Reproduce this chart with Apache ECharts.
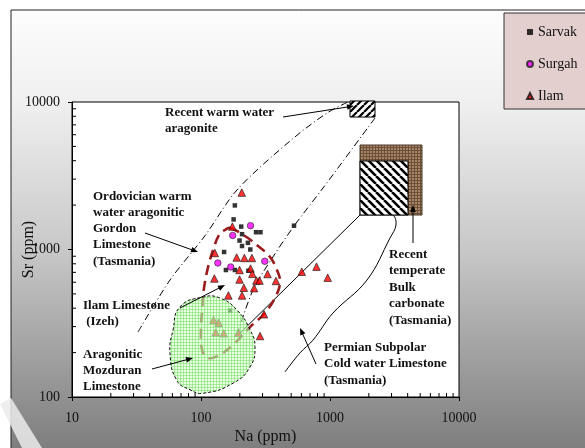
<!DOCTYPE html>
<html><head><meta charset="utf-8">
<script src="https://cdn.jsdelivr.net/npm/echarts@6/dist/echarts.min.js"></script>
<style>html,body{margin:0;padding:0;background:#fff}#c{width:585px;height:448px}</style>
</head><body><div id="c"></div>
<script>
// ---- data (Na ppm, Sr ppm) ----
const xTickLabels = [10, 100, 1000, 10000];
const yTickLabels = [100, 1000, 10000];
const minorMultipliers = [2, 3, 4, 5, 6, 7, 8, 9];
const sarvak = [[183,1990],[179,1600],[205,1430],[267,1310],[289,1310],[208,1270],[199,1150],[231,1110],[208,1056],[241,1000],[151,962],[156,726],[183,726],[233,718],[526,1450],[168,385]];
const surgah = [[242,1450],[176,1244],[135,810],[170,761],[312,832]];
const ilam = [[207,2430],[175,1430],[128,947],[189,883],[217,876],[248,876],[199,726],[242,743],[250,684],[269,616],[284,616],[328,682],[381,612],[127,636],[199,626],[215,550],[258,547],[163,488],[208,488],[308,364],[287,259],[125,333],[137,319],[130,274],[150,270],[195,273],[604,707],[786,765],[960,644]];
// envelopes
const warmUpper = [[32.5,276],[57.5,621],[107,1235],[190,2532],[490,5440],[948,8422],[1429,10158]];
const warmLower = [[190,263],[253,531],[361,890],[526,1443],[883,2612],[2233,7789]];
const permianLine = [[194,263],[1709,1713]];
const permianCurve = [[448,148],[585,199],[738,243],[1055,371],[1936,621],[2919,1197],[3248,1466],[3079,1713],[2441,1838],[1709,1768]];
const ilamEnvelope = [[168,1399],[219,1235],[277,1056],[343,890],[388,726],[410,602],[381,484],[313,371],[240,298],[177,225],[135,190],[113,184],[102,208],[100,285],[102,389],[105,531],[113,749],[124,992],[138,1254],[153,1356]];
const mozduranEnvelope = [[68.7,408],[103.6,476],[140,469],[190,389],[240,285],[262,219],[240,160],[177,124],[103.6,106],[82.2,112],[64.8,130],[57.5,199],[60.7,285]];
const warmBox = [[1429,7907],[2233,10158]];
const bulkBox = [[1709,1713],[5168,5110]];
const bulkInner = [[1709,1713],[4024,3981]];

// ---- patterns ----
function hatch(dir, bg, fg, size, lw){
  const c=document.createElement('canvas'); c.width=c.height=size;
  const g=c.getContext('2d'); g.fillStyle=bg; g.fillRect(0,0,size,size);
  g.strokeStyle=fg; g.lineWidth=lw; g.beginPath();
  for (let k=-1;k<=1;k++){
    if(dir>0){ g.moveTo(k*size, size); g.lineTo(k*size+size, 0); }
    else { g.moveTo(k*size, 0); g.lineTo(k*size+size, size); }
  }
  g.stroke(); return c;
}
function gridPat(bg, fg, size){
  const c=document.createElement('canvas'); c.width=c.height=size;
  const g=c.getContext('2d'); g.fillStyle=bg; g.fillRect(0,0,size,size);
  g.fillStyle=fg; g.fillRect(0,0,size,1); g.fillRect(0,0,1,size); return c;
}
const patGreen = {image: gridPat('rgba(215,255,205,0.55)','rgba(110,220,90,0.5)',3), repeat:'repeat'};
const patBrown = {image: gridPat('#a3856a','#6e4f35',3), repeat:'repeat'};
const patHatchBack = {image: hatch(-1,'#ffffff','#000000',8,2.6), repeat:'repeat'};
const patHatchFwd = {image: hatch(1,'#ffffff','#000000',7,2.2), repeat:'repeat'};

function shapeSeries(name, pts, kind, style, z, extra){
  return {type:'custom', name, coordinateSystem:'cartesian2d', silent:true, clip:false, z,
    data:[pts[0]],
    renderItem:(params, api)=>({type:kind, shape:Object.assign({points: pts.map(p=>api.coord(p))}, extra||{}), style})};
}
function boxSeries(name, box, style, z){
  return {type:'custom', name, coordinateSystem:'cartesian2d', silent:true, clip:false, z,
    data:[box[0]],
    renderItem:(params, api)=>{
      const a=api.coord(box[0]), b=api.coord(box[1]);
      return {type:'rect', shape:{x:Math.min(a[0],b[0]), y:Math.min(a[1],b[1]), width:Math.abs(b[0]-a[0]), height:Math.abs(b[1]-a[1])}, style};
    }};
}
const minorTickSeries = {type:'custom', name:'minor', coordinateSystem:'cartesian2d', silent:true, clip:false, z:5,
  data:[[xTickLabels[0], yTickLabels[0]]],
  renderItem:(params, api)=>{
    const children=[];
    xTickLabels.slice(0,-1).forEach(d=>minorMultipliers.forEach(m=>{
      const p=api.coord([d*m, yTickLabels[0]]);
      children.push({type:'line', shape:{x1:p[0],y1:p[1],x2:p[0],y2:p[1]-4}, style:{stroke:'#000',lineWidth:1}});
    }));
    yTickLabels.slice(0,-1).forEach(d=>minorMultipliers.forEach(m=>{
      const p=api.coord([xTickLabels[0], d*m]);
      children.push({type:'line', shape:{x1:p[0],y1:p[1],x2:p[0]+4,y2:p[1]}, style:{stroke:'#000',lineWidth:1}});
    }));
    return {type:'group', children};
  }};

function arrow(x1,y1,x2,y2){
  const a=Math.atan2(y2-y1,x2-x1), L=7, W=2.8, c=Math.cos(a), s=Math.sin(a);
  return [
    {type:'line', z:100, shape:{x1,y1,x2:x2-c*3,y2:y2-s*3}, style:{stroke:'#000', lineWidth:1}},
    {type:'polygon', z:100, shape:{points:[[x2,y2],[x2-L*c+W*s, y2-L*s-W*c],[x2-L*c-W*s, y2-L*s+W*c]]}, style:{fill:'#000'}}
  ];
}
const F = 'bold 13px "Liberation Serif", "Times New Roman", serif';
function label(x, top, lines, lh){
  return {type:'text', z:100, x, y:top, style:{text: lines.join('\n'), font:F, fill:'#111', lineHeight:lh, verticalAlign:'top', align:'left'}};
}

const serif = '"Liberation Serif", "Times New Roman", serif';
const chart = echarts.init(document.getElementById('c'), null, {renderer:'canvas'});
chart.setOption({
  backgroundColor:'#ffffff',
  animation:false,
  grid:{left:72, top:102, width:387, height:295, outerBoundsMode:'none', containLabel:false, show:true, backgroundColor:'#ffffff', borderColor:'#000', borderWidth:1},
  xAxis:{type:'log', logBase:10, min:xTickLabels[0], max:xTickLabels[xTickLabels.length-1],
    name:'Na (ppm)', nameLocation:'middle', nameGap:32, nameMoveOverlap:false, nameTextStyle:{fontFamily:serif, fontSize:16, color:'#111'},
    axisLine:{lineStyle:{color:'#000', width:1}}, axisTick:{inside:false, length:4, lineStyle:{color:'#000'}},
    axisLabel:{margin:14, fontFamily:serif, fontSize:14, color:'#111', formatter:v=>String(Math.round(v))},
    splitLine:{show:false}},
  yAxis:{type:'log', logBase:10, min:yTickLabels[0], max:yTickLabels[yTickLabels.length-1],
    name:'Sr (ppm)', nameLocation:'middle', nameGap:35, nameMoveOverlap:false, nameRotate:90, nameTextStyle:{fontFamily:serif, fontSize:16, color:'#111'},
    axisLine:{lineStyle:{color:'#000', width:1}}, axisTick:{inside:false, length:4, lineStyle:{color:'#000'}},
    axisLabel:{margin:12, fontFamily:serif, fontSize:14, color:'#111', formatter:v=>String(Math.round(v))},
    splitLine:{show:false}},
  legend:{data:['Sarvak','Surgah','Ilam'], orient:'vertical', left:526, top:25, itemGap:18, itemWidth:6, itemHeight:6, padding:0,
    textStyle:{fontFamily:serif, fontSize:14, color:'#111'}, z:20},
  graphic:[
    {type:'rect', z:-100, silent:true, shape:{x:11,y:10,width:620,height:460},
      style:{fill:{type:'linear',x:0,y:0,x2:0,y2:1,colorStops:[{offset:0,color:'#fdfdfd'},{offset:0.2,color:'#f0f0f0'},{offset:0.52,color:'#c8c8c8'},{offset:0.96,color:'#7d7d7d'},{offset:1,color:'#7a7a7a'}]}, stroke:'#222', lineWidth:1}},
    {type:'polygon', z:-50, silent:true, shape:{points:[[0,404],[11,398],[42,448],[22,448]]}, style:{fill:'rgba(235,235,235,0.85)'}},
    {type:'rect', z:10, silent:true, shape:{x:504,y:13,width:100,height:96}, style:{fill:'#e4cfcf', stroke:'#333', lineWidth:1}},
    label(165,105,['Recent warm water','aragonite'],16),
    label(93,188,['Ordovician warm','water aragonitic','Gordon','Limestone','(Tasmania)'],16.3),
    label(83,298,['Ilam Limestone',' (Izeh)'],16),
    label(83,347,['Aragonitic','Mozduran','Limestone'],16),
    label(389,246,['Recent','temperate','Bulk','carbonate','(Tasmania)'],16.5),
    label(324,339,['Permian Subpolar','Cold water Limestone','(Tasmania)'],16.5),
    ...arrow(283,117,354,106),
    ...arrow(145,233,198,252),
    ...arrow(180,308,225,285),
    ...arrow(152,369,193,358),
    ...arrow(413,243,413,205),
    ...arrow(316,364,300,328)
  ],
  series:[
    minorTickSeries,
    shapeSeries('warmUpper', warmUpper, 'polyline', {stroke:'#000', fill:null, lineWidth:1, lineDash:[7,3,1,3]}, 2, {smooth:0.3}),
    shapeSeries('warmLower', warmLower, 'polyline', {stroke:'#000', fill:null, lineWidth:1, lineDash:[7,3,1,3]}, 2, {smooth:0.3}),
    shapeSeries('permianLine', permianLine, 'polyline', {stroke:'#000', fill:null, lineWidth:1}, 2),
    shapeSeries('permianCurve', permianCurve, 'polyline', {stroke:'#000', fill:null, lineWidth:1}, 2, {smooth:0.4}),
    shapeSeries('ilamEnvelope', ilamEnvelope, 'polygon', {stroke:'#9b1c1c', fill:null, lineWidth:2.6, lineDash:[10,6]}, 2, {smooth:0.4}),
    boxSeries('bulkBox', bulkBox, {fill:patBrown, stroke:'#4a3a2a', lineWidth:1}, 3),
    boxSeries('bulkInner', bulkInner, {fill:patHatchBack, stroke:'#000', lineWidth:1}, 3),
    boxSeries('warmBox', warmBox, {fill:patHatchFwd, stroke:'#000', lineWidth:1}, 3),
    {type:'scatter', name:'Sarvak', data:sarvak, symbol:'rect', symbolSize:4.5, z:6, itemStyle:{color:'#000'}},
    {type:'scatter', name:'Surgah', data:surgah, symbol:'circle', symbolSize:6.5, z:6, itemStyle:{color:'#ff00ff', borderColor:'#222', borderWidth:0.8}},
    {type:'scatter', name:'Ilam', data:ilam, symbol:'triangle', symbolSize:7.5, z:6, itemStyle:{color:'#ff0000', borderColor:'#111', borderWidth:0.8}},
    shapeSeries('mozduranEnvelope', mozduranEnvelope, 'polygon', {stroke:'#111', fill:patGreen, lineWidth:1, lineDash:[3,2]}, 7, {smooth:0.5})
  ]
});
</script></body></html>
